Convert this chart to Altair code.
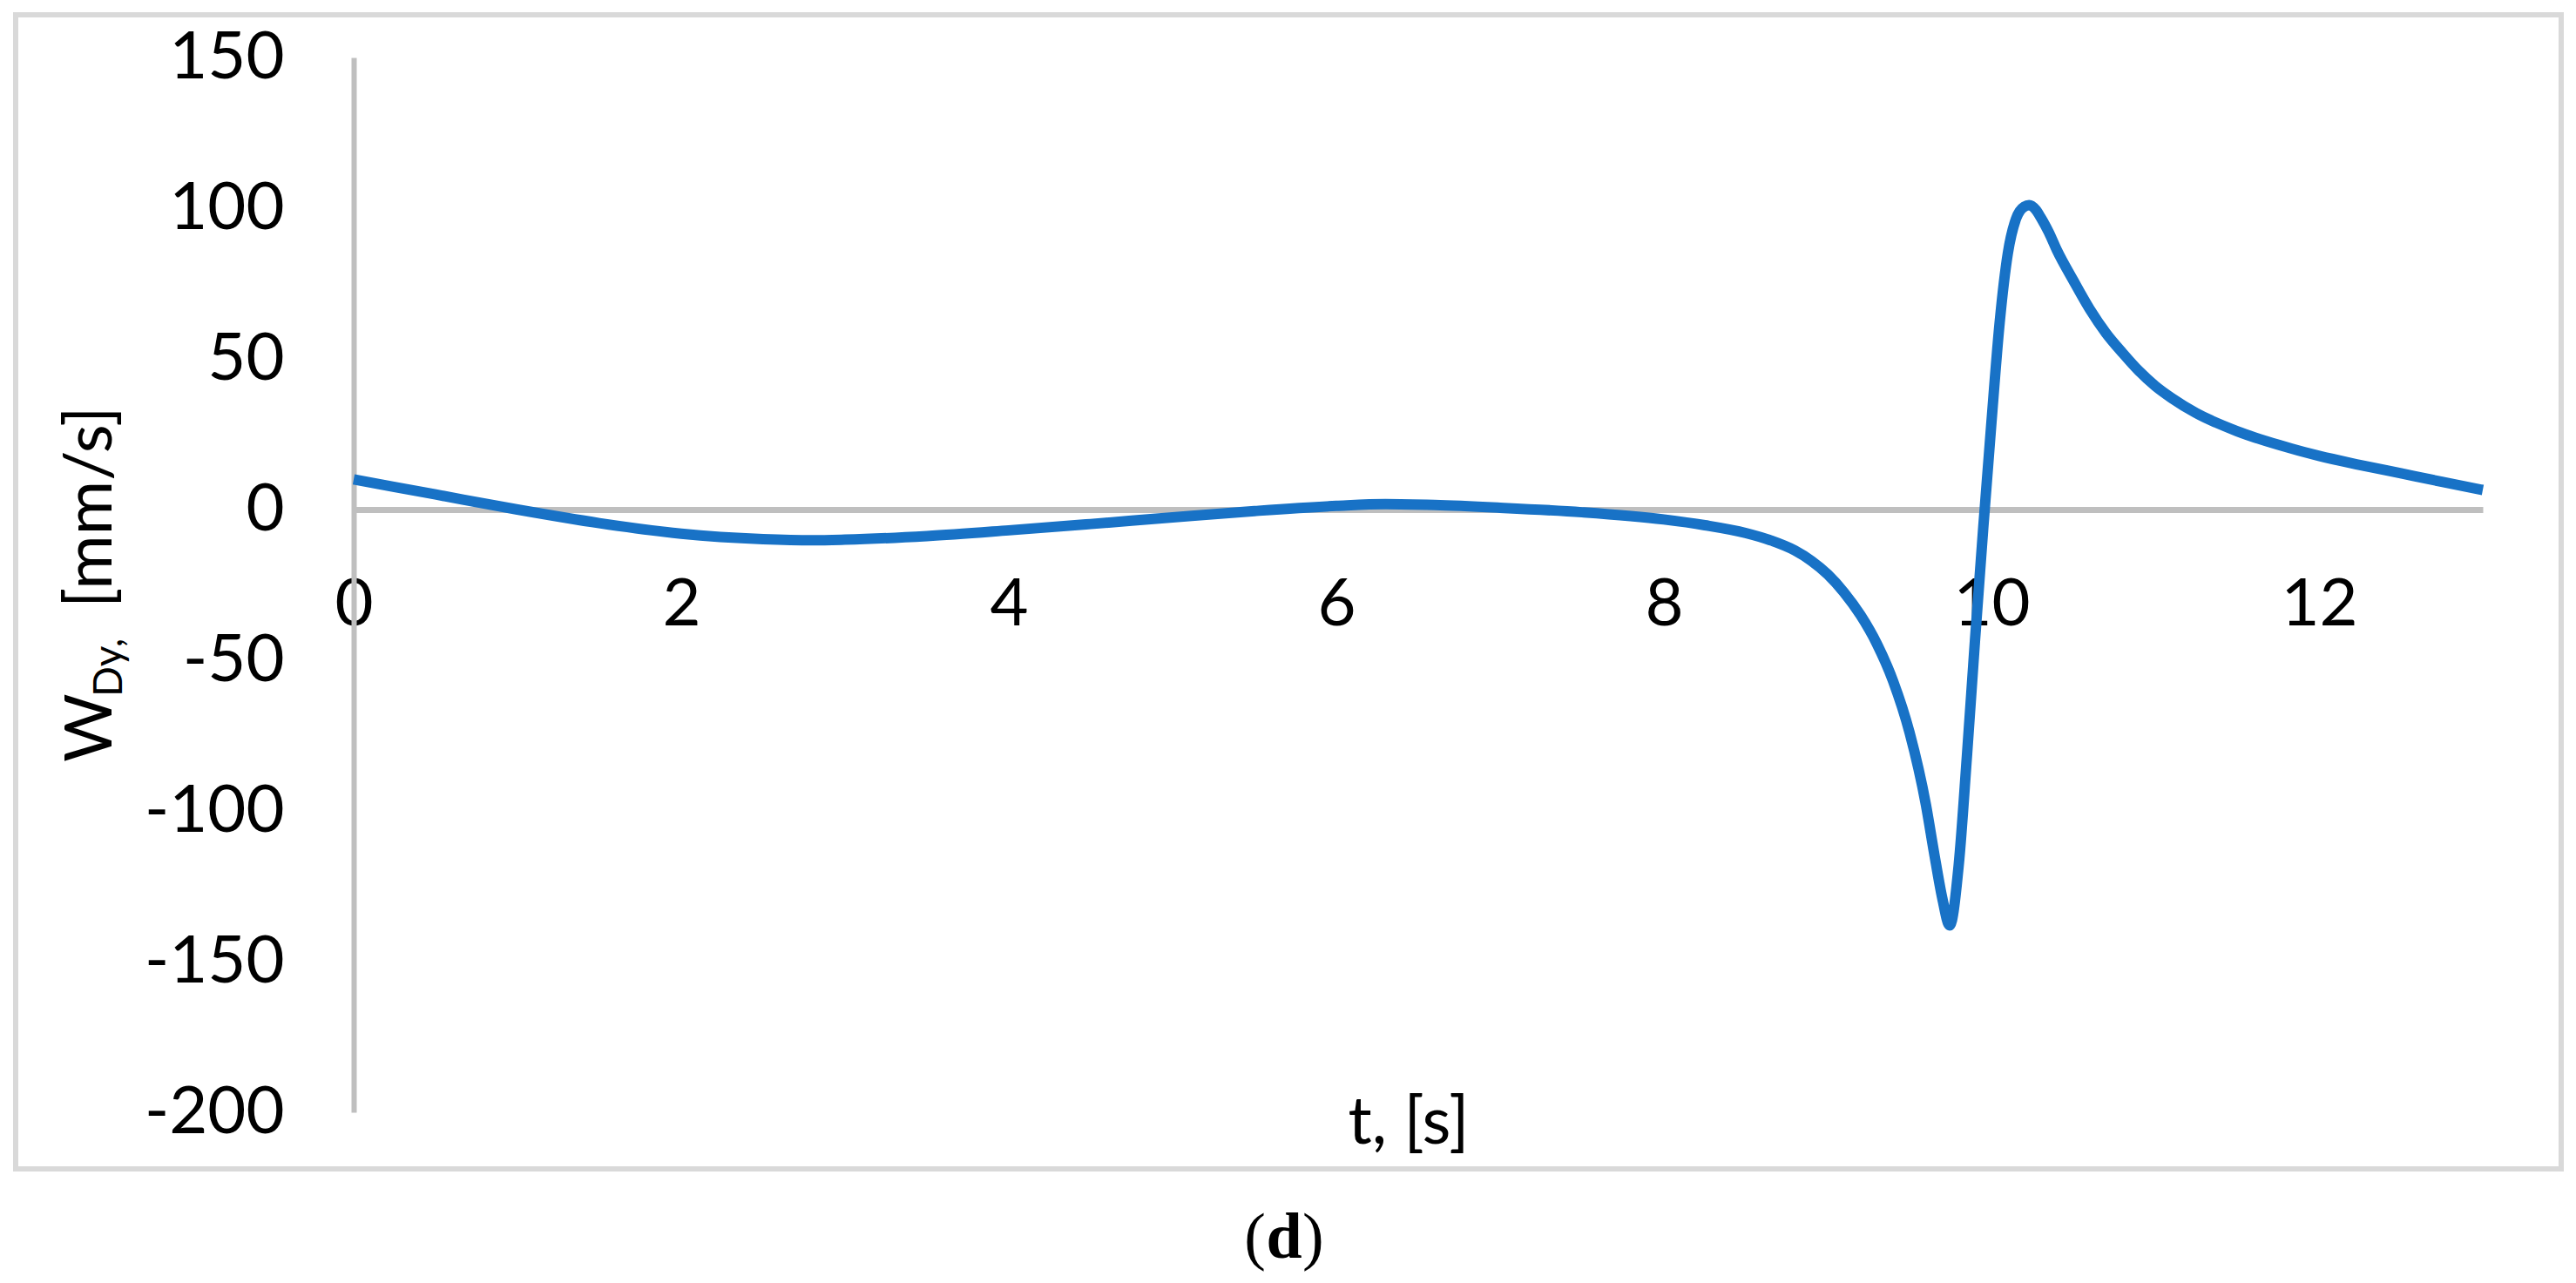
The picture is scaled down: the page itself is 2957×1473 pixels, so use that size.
import altair as alt
import pandas as pd

# ---- data ----
t_s = [0, 0.5, 1.0, 1.5, 2.0, 2.5, 2.8, 3.0, 3.5, 4.0, 4.5, 5.0, 5.5, 6.0, 6.3, 6.6,
       7.0, 7.5, 8.0, 8.25, 8.5, 8.65, 8.8, 8.9, 9.0, 9.1, 9.2, 9.3, 9.4, 9.5, 9.6,
       9.65, 9.7, 9.745, 9.8, 9.85, 9.9, 9.95, 10.0, 10.05, 10.1, 10.15, 10.2,
       10.23, 10.27, 10.3, 10.35, 10.4, 10.5, 10.6, 10.7, 10.8, 10.9, 11.0, 11.1,
       11.25, 11.5, 11.75, 12.0, 12.25, 12.5, 12.75, 13.0]
w_dy = [10, 5, 0, -4.5, -8, -9.8, -10.2, -10, -8.8, -6.9, -4.8, -2.6, -0.5, 1.2, 1.8, 1.5,
        0.6, -0.9, -3.3, -5.2, -7.8, -10.2, -13.6, -17, -21.5, -27.5, -35, -44.5, -57, -74, -98,
        -114, -129, -138, -118, -82, -43, -6, 29, 62, 85, 96.5, 100.5,
        101, 99.5, 97, 92, 86, 76, 66.5, 58.5, 52, 46, 41, 37,
        32, 26, 21.5, 17.8, 14.8, 12, 9.2, 6.5]

x_ticks = [0, 2, 4, 6, 8, 10, 12]
y_ticks = [-200, -150, -100, -50, 0, 50, 100, 150]
x_title = ["t, [s]"]
y_title_main = ["W"]
y_title_sub = ["Dy,"]
y_title_unit = ["[mm/s]"]
caption = ["(", "d", ")"]

FONT = "Lato"
GRAY = "#bfbfbf"
BLUE = "#1872C6"

W, H = 2444, 1211

df = pd.DataFrame({"t": t_s, "w": w_dy})

line = alt.Chart(df).mark_line(
    color=BLUE, strokeWidth=12, interpolate="monotone", strokeCap="butt", strokeJoin="round"
).encode(
    x=alt.X("t:Q",
            scale=alt.Scale(domain=[0, 13], nice=False, zero=False),
            axis=alt.Axis(values=x_ticks, title=None, grid=False, ticks=False,
                          domainColor=GRAY, domainWidth=7, offset=-692,
                          labelFont=FONT, labelFontSize=76, labelColor="#000000",
                          labelPadding=72, labelBaseline="top", labelFlush=False,
                          labelOverlap=False)),
    y=alt.Y("w:Q",
            scale=alt.Scale(domain=[-200, 150], nice=False, zero=False),
            axis=alt.Axis(values=y_ticks, title=None, grid=False, ticks=False,
                          domainColor=GRAY, domainWidth=6,
                          labelFont=FONT, labelFontSize=76, labelColor="#000000",
                          labelPadding=80, labelExpr="datum.value",
                          labelOverlap=False)),
)

frame = alt.Chart(pd.DataFrame({"k": [0]})).mark_rect(
    filled=False, stroke="#d9d9d9", strokeWidth=6
).encode(x=alt.value(-388), x2=alt.value(2534), y=alt.value(-49), y2=alt.value(1276))


def txt(label, x, y, size, angle=0, align="center", weight="normal", font=FONT):
    return alt.Chart(pd.DataFrame({"s": label})).mark_text(
        font=font, fontSize=size, angle=angle, align=align, baseline="alphabetic",
        fontWeight=weight, color="#000000"
    ).encode(x=alt.value(x), y=alt.value(y), text="s:N")


xt = txt(x_title, 1211, 1247, 76)
yt1 = txt(y_title_main, -278, 809, 76, angle=270, align="left")
yt2 = txt(y_title_sub, -266, 734, 46, angle=270, align="left")
yt3 = txt(y_title_unit, -278, 632, 76, angle=270, align="left")

SERIF = "Liberation Serif"
cap1 = txt([caption[0]], 1047, 1378, 74, align="right", font=SERIF)
cap2 = txt([caption[1]], 1068, 1378, 74, align="center", weight="bold", font=SERIF)
cap3 = txt([caption[2]], 1089, 1378, 74, align="left", font=SERIF)

chart = alt.layer(frame, line, xt, yt1, yt2, yt3, cap1, cap2, cap3).properties(
    width=W, height=H,
    padding={"left": 398, "top": 58, "right": 99, "bottom": 188},
    autosize=alt.AutoSizeParams(type="none"),
    background="#ffffff",
).configure_view(stroke=None)

chart.save("out.html", embed_options={"renderer": "svg", "actions": False})
